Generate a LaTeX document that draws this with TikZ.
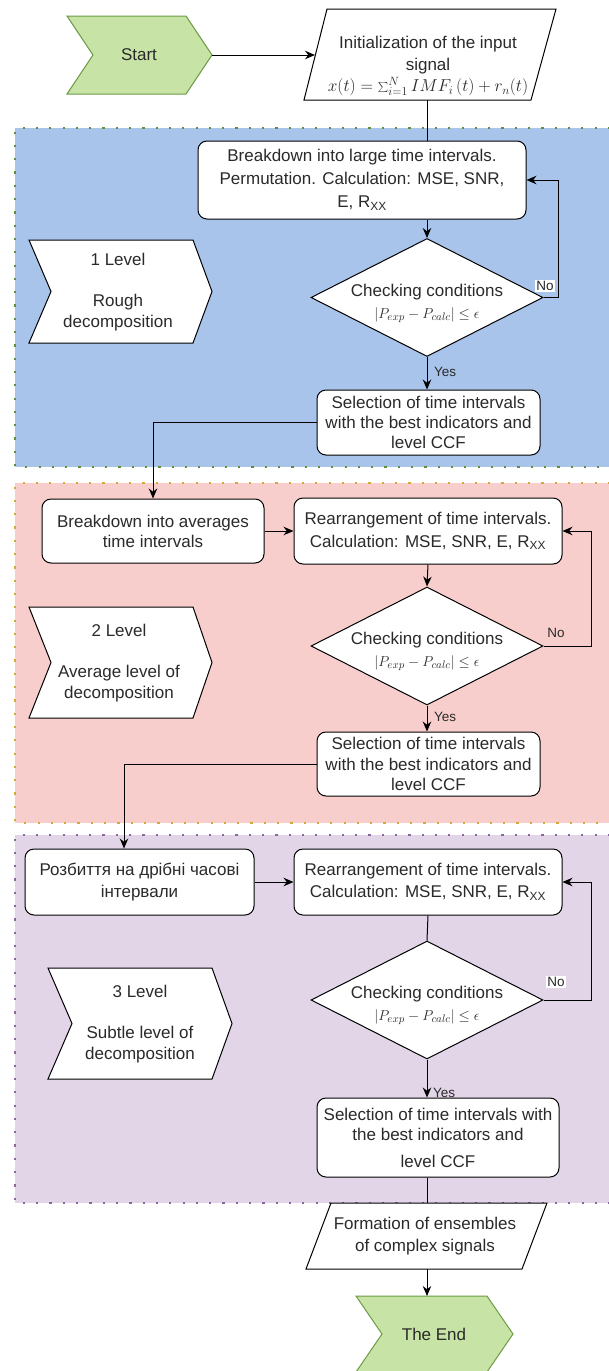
\documentclass[tikz,border=0pt]{standalone}
\usepackage{fontspec}
\setmainfont{Liberation Sans}
\usetikzlibrary{arrows.meta,shapes.geometric}
\definecolor{blueR}{HTML}{A9C4EB}
\definecolor{redR}{HTML}{F8CECC}
\definecolor{purR}{HTML}{E1D5E7}
\definecolor{greenB}{HTML}{5E8E36}
\definecolor{yellowB}{HTML}{D6A936}
\definecolor{purB}{HTML}{8C66A0}
\definecolor{greenF}{HTML}{C7E3A5}
\definecolor{greenD}{HTML}{6D9B46}
\definecolor{tc}{HTML}{2A2A2A}
\begin{document}
\begin{tikzpicture}[x=1pt,y=-1pt,
  txt/.style={font=\fontsize{17}{21}\selectfont, text=tc, align=center, inner sep=0pt},
  box/.style={draw=black, line width=1pt, fill=white, rounded corners=9pt, inner sep=0pt, txt},
  dia/.style={draw=black, line width=1pt, fill=white, shape=diamond, inner sep=0pt, minimum width=232, minimum height=118},
  arr/.style={line width=1pt, -{Stealth[length=10pt,width=8.5pt]}},
  ln/.style={line width=1pt},
  small/.style={font=\fontsize{13.5}{15}\selectfont, text=tc, inner sep=1pt},
  region/.style={line width=2.2pt, dash pattern=on 2.2pt off 11.1pt},
  chev/.style={draw=greenD, fill=greenF, line width=1pt},
  lab/.style={draw=black, fill=white, line width=1pt},
  para/.style={draw=black, fill=white, line width=1pt}
]
\useasboundingbox (0,0) rectangle (608,1371);
% ---------- regions
\fill[blueR] (15,128) rectangle (610,467);
\draw[region,draw=greenB] (610,128) -- (15,128) -- (15,467) -- (610,467);
\fill[redR] (15,483) rectangle (610,823);
\draw[region,draw=yellowB] (610,483) -- (15,483) -- (15,823) -- (610,823);
\fill[purR] (15,835) rectangle (610,1203);
\draw[region,draw=purB] (610,835) -- (15,835) -- (15,1203) -- (610,1203);

% ---------- start
\draw[chev] (67,16) -- (186,16) -- (212,55) -- (186,94) -- (67,94) -- (93,55) -- cycle;
\node[txt] (start) at (139,55) {Start};
\coordinate (startTip) at (212,55);

% ---------- init
\draw[para] (327,9) -- (556,9) -- (531,100) -- (304,100) -- cycle;
\node[txt, font=\fontsize{17}{22}\selectfont] (init) at (428,66) {Initialization of the input\\signal\\[-1pt]$x(t)=\sum\nolimits_{i=1}^{N} IMF_i\,(t)+r_n(t)$};
\coordinate (initW) at (315,55);
\coordinate (initS) at (427,100);

% ---------- level 1
\draw[lab] (29,240) -- (193,240) -- (212,291.5) -- (193,343) -- (29,343) -- (51,291.5) -- cycle;
\node[txt] (l1) at (118,292) {1 Level\\[20pt]Rough\\decomposition};

\node[box, minimum width=328, minimum height=78, font=\fontsize{17}{23}\selectfont] (b1) at (362,180) {Breakdown into large time intervals.\\Permutation. Calculation: MSE, SNR,\\E, R\textsubscript{XX}};
\node[dia] (d1) at (427,297.5) {};
\node[txt] (d1t) at (427,303) {Checking conditions\\[1pt]{\fontsize{15}{17}\selectfont$\left|P_{exp}-P_{calc}\right|\le\epsilon$}};
\node[box, minimum width=223, minimum height=65, font=\fontsize{17}{20}\selectfont] (s1) at (428.5,422.5) {Selection of time intervals\\with the best indicators and\\level CCF};
\coordinate (n1) at (558,180);

\draw[ln] (initS) -- (initS |- b1.north);
\draw[arr] (startTip) -- (initW);
\draw[arr] (b1.south -| d1.north) -- (d1.north);
\draw[arr] (d1.east) -| (n1) -- (b1.east);
\node[small, fill=white, inner sep=1.5pt] (no1) at (545,286) {No};
\draw[arr] (d1.south) -- (d1.south |- s1.north);
\node[small, anchor=west] (yes1) at (433,372) {Yes};

% ---------- level 2
\draw[lab] (29,607) -- (193,607) -- (212,662.5) -- (193,718) -- (29,718) -- (51,662.5) -- cycle;
\node[txt] (l2) at (119,663) {2 Level\\[20pt]Average level of\\decomposition};

\node[box, minimum width=222, minimum height=64, font=\fontsize{17}{20}\selectfont] (b2) at (153,531) {Breakdown into averages\\time intervals};
\node[box, minimum width=268, minimum height=66, font=\fontsize{17}{23}\selectfont] (r2) at (428,531) {Rearrangement of time intervals.\\Calculation: MSE, SNR, E, R\textsubscript{XX}};
\node[dia] (d2) at (427,646) {};
\node[txt] (d2t) at (427,651) {Checking conditions\\[1pt]{\fontsize{15}{17}\selectfont$\left|P_{exp}-P_{calc}\right|\le\epsilon$}};
\node[box, minimum width=223, minimum height=64, font=\fontsize{17}{20.5}\selectfont] (s2) at (428.5,764) {Selection of time intervals\\with the best indicators and\\level CCF};
\coordinate (n2) at (591,531);

\draw[arr] (s1.west) -| (b2.north);
\draw[arr] (b2.east) -- (r2.west);
\draw[arr] (r2.south) -- (d2.north);
\draw[arr] (d2.east) -| (n2) -- (r2.east);
\node[small] (no2) at (556,633) {No};
\draw[arr] (d2.south) -- (d2.south |- s2.north);
\node[small, anchor=west] (yes2) at (433,717) {Yes};

% ---------- level 3
\draw[lab] (48,968) -- (212,968) -- (232,1023.5) -- (212,1079) -- (48,1079) -- (72,1023.5) -- cycle;
\node[txt] (l3) at (140,1024) {3 Level\\[20pt]Subtle level of\\decomposition};

\node[box, minimum width=229, minimum height=66, font=\fontsize{17}{22}\selectfont] (b3) at (139.5,882) {Розбиття на дрібні часові\\інтервали};
\node[box, minimum width=268, minimum height=66, font=\fontsize{17}{22}\selectfont] (r3) at (428,882) {Rearrangement of time intervals.\\Calculation: MSE, SNR, E, R\textsubscript{XX}};
\node[dia] (d3) at (427,1000) {};
\node[txt] (d3t) at (427,1005) {Checking conditions\\[1pt]{\fontsize{15}{17}\selectfont$\left|P_{exp}-P_{calc}\right|\le\epsilon$}};
\node[box, minimum width=242, minimum height=79, font=\fontsize{17}{20}\selectfont] (s3) at (438,1137.5) {Selection of time intervals with\\the best indicators and\\[7pt]level CCF};
\coordinate (n3) at (591,882);
\coordinate (c23) at (124,850);

\draw[arr] (s2.west) -| (c23 |- b3.north);
\draw[arr] (b3.east) -- (r3.west);
\draw[ln] (r3.south) -- (d3.north);
\draw[arr] (d3.east) -| (n3) -- (r3.east);
\node[small, fill=white, inner sep=1.5pt] (no3) at (556,982) {No};
\draw[arr] (d3.south) -- (d3.south |- s3.north);
\node[small, anchor=west] (yes3) at (432,1093) {Yes};

% ---------- formation & end
\draw[para] (331,1203) -- (547,1203) -- (522,1269) -- (306,1269) -- cycle;
\node[txt, font=\fontsize{17}{22}\selectfont] (form) at (425,1236) {Formation of ensembles\\of complex signals};
\coordinate (formN) at (427,1203);
\coordinate (formS) at (427,1269);
\draw[ln] (s3.south -| d3.south) -- (formN);

\draw[chev] (356,1296) -- (487,1296) -- (513,1334) -- (487,1372) -- (356,1372) -- (382,1334) -- cycle;
\node[txt] (endn) at (434,1334) {The End};
\coordinate (endN) at (427,1296);
\draw[arr] (formS) -- (endN);
\end{tikzpicture}
\end{document}
